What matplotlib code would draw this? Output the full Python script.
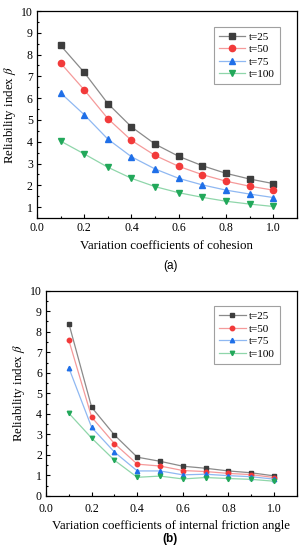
import numpy as np
import matplotlib.pyplot as plt
from matplotlib.ticker import MultipleLocator

# --- dados ---
cv = [0.1, 0.2, 0.3, 0.4, 0.5, 0.6, 0.7, 0.8, 0.9, 1.0]
labels = ["t=25", "t=50", "t=75", "t=100"]

# (a) coesao
coh_t25 = [8.42, 7.18, 5.75, 4.68, 3.89, 3.33, 2.90, 2.55, 2.29, 2.08]
coh_t50 = [7.61, 6.38, 5.06, 4.06, 3.37, 2.87, 2.49, 2.19, 1.96, 1.78]
coh_t75 = [6.24, 5.24, 4.12, 3.31, 2.75, 2.32, 2.02, 1.78, 1.60, 1.44]
coh_t100 = [4.03, 3.44, 2.83, 2.32, 1.94, 1.66, 1.45, 1.27, 1.14, 1.03]

# (b) angulo de atrito
fri_t25 = [8.40, 4.32, 2.97, 1.89, 1.69, 1.45, 1.35, 1.22, 1.13, 0.98]
fri_t50 = [7.58, 3.84, 2.55, 1.55, 1.46, 1.24, 1.19, 1.10, 1.04, 0.90]
fri_t75 = [6.24, 3.34, 2.14, 1.22, 1.22, 1.03, 1.06, 0.99, 0.94, 0.82]
fri_t100 = [4.03, 2.82, 1.74, 0.91, 0.97, 0.83, 0.90, 0.85, 0.81, 0.72]

MARK_COLORS = ["#3d3d3d", "#f23a3a", "#1f6fe8", "#22a85a"]
LINE_COLORS = ["#8a8a8a", "#f59a9a", "#8fb8f2", "#8fd6aa"]
MARKERS = ["s", "o", "^", "v"]

plt.rcParams["font.family"] = ["Liberation Serif", "DejaVu Serif"]
plt.rcParams["mathtext.fontset"] = "stix"

fig = plt.figure(figsize=(3.07, 5.5), dpi=100)
ax_a = fig.add_axes([0.1205, 0.6036, 0.8465, 0.3764])
ax_b = fig.add_axes([0.150, 0.0982, 0.817, 0.3733])


def draw(ax, series, ms, ylim, yticks, xlabel, xpad):
    for ys, lab, mc, lc, mk in zip(series, labels, MARK_COLORS, LINE_COLORS, MARKERS):
        ax.plot(cv, ys, color=lc, lw=0.9, marker=mk, ms=ms, mfc=mc, mec=mc, label=lab)
    ax.set_xlim(0, 1.1)
    ax.set_ylim(*ylim)
    ax.set_xticks([0.0, 0.2, 0.4, 0.6, 0.8, 1.0])
    ax.set_yticks(yticks)
    ax.xaxis.set_minor_locator(MultipleLocator(0.1))
    ax.yaxis.set_minor_locator(MultipleLocator(0.5))
    ax.tick_params(which="both", direction="in", labelsize=8.5, width=0.8)
    ax.tick_params(which="major", length=3, pad=3)
    ax.tick_params(which="minor", length=1.6)
    ax.tick_params(axis="x", which="major", pad=xpad)
    for s in ax.spines.values():
        s.set_linewidth(0.9)
    ax.set_xlabel(xlabel, fontsize=9.3, labelpad=4)
    ax.set_ylabel(r"Reliability index $\beta$", fontsize=9.3, labelpad=2)
    leg = ax.legend(loc="upper right", fontsize=8, frameon=True, fancybox=False,
                    handlelength=2.4, borderpad=0.45, labelspacing=0.25,
                    bbox_to_anchor=(0.955, 0.95), handletextpad=0.3)
    leg.get_frame().set_edgecolor("#888888")
    leg.get_frame().set_linewidth(0.8)


draw(ax_a, [coh_t25, coh_t50, coh_t75, coh_t100], 4.5, (0.5, 10),
     range(1, 11), "Variation coefficients of cohesion", 3)
draw(ax_b, [fri_t25, fri_t50, fri_t75, fri_t100], 3.2, (0, 10),
     range(0, 11), "Variation coefficients of internal friction angle", 5)

fig.text(0.555, 1 - 266 / 550, "(a)", ha="center", va="center", fontsize=8.5,
         family=["Liberation Sans", "DejaVu Sans"])
fig.text(0.555, 1 - 539 / 550, "(b)", ha="center", va="center", fontsize=8.5,
         family=["Liberation Sans", "DejaVu Sans"], weight="bold")

fig.savefig("out.png", dpi=100)
